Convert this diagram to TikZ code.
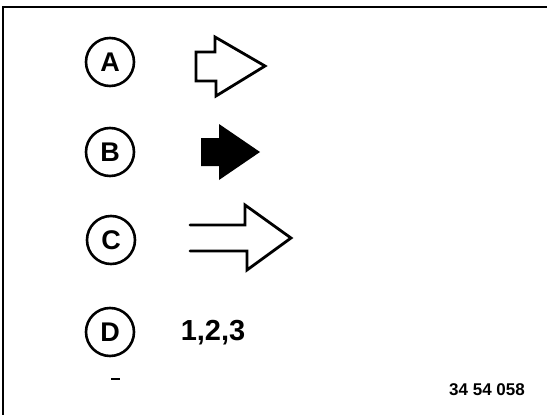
\documentclass[tikz,border=0pt]{standalone}
\usepackage{fontspec}
\setmainfont{Liberation Sans}
\begin{document}
\begin{tikzpicture}[x=1pt,y=-1pt,
  label circle/.style={draw,circle,line width=2.6pt,minimum size=48pt,inner sep=0pt,font=\fontsize{27}{27}\selectfont\bfseries},
  outline arrow/.style={draw,line width=2.8pt,line join=miter},
  bigtext/.style={font=\fontsize{29}{29}\selectfont\bfseries,inner sep=0pt},
  smalltext/.style={font=\fontsize{17}{17}\selectfont\bfseries,inner sep=0pt},
  frame line/.style={line width=1.8pt}]
\useasboundingbox (0,0) rectangle (547,415);
% frame
\coordinate (fr) at (547,7);
\coordinate (fc) at (3,7);
\coordinate (fb) at (3,415);
\draw[frame line] (fr) -- (fc) -- (fb);
% circles
\node[label circle] (A) at (110,62) {A};
\node[label circle] (B) at (110,152) {B};
\node[label circle] (C) at (111,240) {C};
\node[label circle] (D) at (110,332) {D};
% arrow A (outline)
\draw[outline arrow] (196,52) -- (215,52) -- (215,37) -- (265,66) -- (216,96) -- (216,81) -- (196,81) -- cycle;
% arrow B (filled)
\fill (201,138) -- (219,138) -- (219,124) -- (260,152) -- (219,180) -- (219,166) -- (201,166) -- cycle;
% arrow C (open double-line)
\draw[outline arrow,line cap=round] (190,225) -- (245,225) -- (245,205) -- (291,238) -- (247,270) -- (247,251) -- (190,251);
% texts
\node[bigtext] (nums) at (213,333) {1,2,3};
\coordinate (dl) at (111,379);
\coordinate (dr) at (120,379);
\draw[line width=2pt] (dl) -- (dr);
\node[smalltext] (code) at (487,390) {34 54 058};
\end{tikzpicture}
\end{document}
